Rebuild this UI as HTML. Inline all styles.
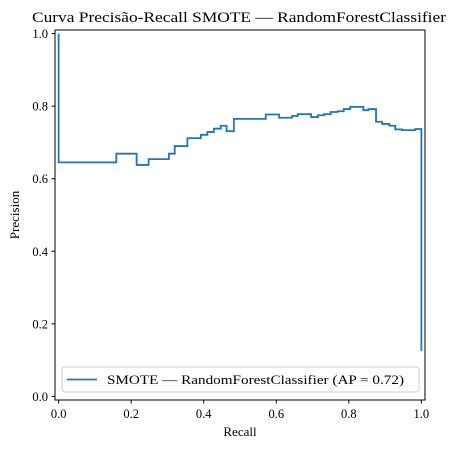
<!DOCTYPE html>
<html><head><meta charset="utf-8"><style>
html,body{margin:0;padding:0;background:#fff}
svg{display:block;font-family:"Liberation Serif","DejaVu Serif",serif}
</style></head><body>
<svg id="chart" width="458" height="449" viewBox="0 0 458 449">
<text x="32" y="22" font-size="15" textLength="414" lengthAdjust="spacingAndGlyphs">Curva Precisão-Recall SMOTE — RandomForestClassifier</text>
<g id="xticks"></g>
<g id="yticks"></g>
<path id="curve" fill="none" stroke="#1f77b4" stroke-width="1.8"/>
<rect x="55" y="30" width="370" height="370" fill="none" stroke="#000" stroke-width="1"/>
<text x="240" y="436" font-size="13" text-anchor="middle">Recall</text>
<text transform="translate(19,215) rotate(-90)" font-size="13" text-anchor="middle">Precision</text>
<g>
<rect x="62" y="367" width="357" height="25" rx="3" fill="#fff" fill-opacity="0.85" stroke="#ccc"/>
<line x1="67" y1="379.5" x2="97" y2="379.5" stroke="#1f77b4" stroke-width="1.8"/>
<text x="107" y="384" font-size="13" textLength="297" lengthAdjust="spacingAndGlyphs">SMOTE — RandomForestClassifier (AP = 0.72)</text>
</g>
</svg>
<script>
const recall=[0,0,0.159,0.215,0.248,0.304,0.320,0.355,0.392,0.410,0.428,0.447,0.463,0.483,0.571,0.608,0.643,0.659,0.696,0.715,0.732,0.750,0.769,0.786,0.804,0.840,0.854,0.875,0.892,0.912,0.928,0.947,0.983,1.0];
const precision=[1.0,0.645,0.669,0.638,0.654,0.669,0.690,0.712,0.721,0.729,0.738,0.746,0.731,0.765,0.777,0.768,0.773,0.778,0.770,0.775,0.778,0.784,0.786,0.792,0.798,0.789,0.792,0.757,0.751,0.746,0.736,0.734,0.737,0.125];
const tickVals=[0,0.2,0.4,0.6,0.8,1.0];
const tickLabels=["0.0","0.2","0.4","0.6","0.8","1.0"];
const NS="http://www.w3.org/2000/svg";
function xs(v){return 55+(v+0.01)/1.02*370;}
function ys(v){return 400-(v+0.01)/1.02*370;}
let d="M"+xs(recall[0])+","+ys(precision[0]);
for(let i=1;i<recall.length;i++){d+=" H"+xs(recall[i])+" V"+ys(precision[i]);}
const c=document.getElementById('curve');c.setAttribute('d',d);
const gx=document.getElementById('xticks'),gy=document.getElementById('yticks');
tickVals.forEach((v,i)=>{
 const l=document.createElementNS(NS,'line');
 l.setAttribute('x1',xs(v));l.setAttribute('x2',xs(v));l.setAttribute('y1',400);l.setAttribute('y2',403.5);l.setAttribute('stroke','#000');
 
 
 gx.appendChild(l);
 const t=document.createElementNS(NS,'text');
 t.setAttribute('x',xs(v));t.setAttribute('y',418);t.setAttribute('font-size','12.5');t.setAttribute('text-anchor','middle');t.textContent=tickLabels[i];
 
 
 gx.appendChild(t);
 const l2=document.createElementNS(NS,'line');
 l2.setAttribute('x1',51.5);l2.setAttribute('x2',55);l2.setAttribute('y1',ys(v));l2.setAttribute('y2',ys(v));l2.setAttribute('stroke','#000');
 
 
 gy.appendChild(l2);
 const t2=document.createElementNS(NS,'text');
 t2.setAttribute('x',48);t2.setAttribute('y',ys(v)+4.5);t2.setAttribute('font-size','12.5');t2.setAttribute('text-anchor','end');t2.textContent=tickLabels[i];
 
 
 gy.appendChild(t2);
});
</script>
</body></html>
